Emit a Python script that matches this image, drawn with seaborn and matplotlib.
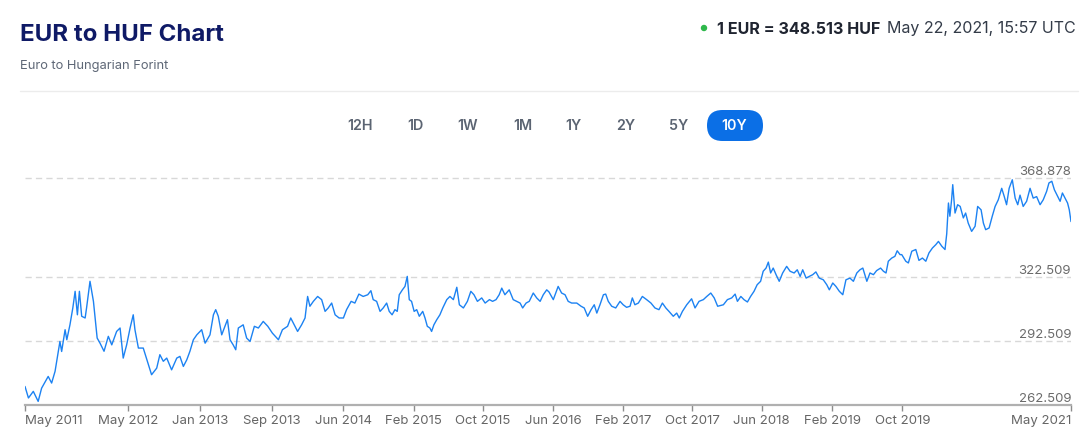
import seaborn as sns
import matplotlib.pyplot as plt
import pandas as pd
from matplotlib.patches import FancyBboxPatch, Circle
from matplotlib.lines import Line2D
from matplotlib.transforms import IdentityTransform

# 資料：EUR/HUF 10 年走勢
start_date = '2011-05-22'
day_offset = [0, 12, 29, 46, 58, 81, 93, 105, 122, 128, 140, 146, 157, 167, 175, 183, 190, 198, 210, 215,
              227, 239, 252, 262, 276, 291, 303, 320, 332, 343, 355, 367, 378, 384, 396, 413, 431, 442, 460, 471,
              483, 495, 512, 530, 541, 553, 565, 576, 588, 600,
              617, 629, 646, 658, 666, 675, 687, 696, 707, 716, 727, 736, 745, 762, 774, 786, 801, 815, 832, 848,
              864, 885, 899, 917, 928, 940, 952, 966, 978, 987, 995, 1007, 1022, 1036, 1048, 1059, 1071, 1083, 1097, 1112,
              1123, 1139, 1152, 1166, 1181, 1197, 1208,
              1216, 1228, 1240, 1251, 1263, 1272, 1282, 1292, 1300, 1307, 1318, 1327, 1335, 1342, 1350, 1359, 1368, 1377, 1389, 1397,
              1405, 1414, 1420, 1428, 1438, 1449, 1459, 1473, 1484, 1496, 1508, 1517, 1531, 1545, 1557, 1568, 1580, 1595, 1607, 1622,
              1633, 1645, 1656, 1665, 1676, 1691, 1705, 1717, 1729, 1738, 1750, 1761, 1775, 1787, 1799, 1810, 1822,
              1830, 1845, 1862, 1874, 1886, 1897, 1909, 1927, 1942, 1953, 1965, 1977, 1988, 1997, 2008, 2020, 2028, 2037, 2049, 2063,
              2078, 2089, 2101, 2113, 2121, 2130, 2142, 2156, 2171, 2186, 2200, 2214, 2226, 2238, 2249, 2264, 2276, 2285, 2296, 2311,
              2328, 2340, 2354, 2369, 2381, 2395, 2407, 2419,
              2439, 2453, 2468, 2480, 2488, 2500, 2511, 2523, 2534, 2546, 2557, 2569, 2578, 2588, 2596, 2604, 2613, 2623, 2634, 2646,
              2660, 2672, 2686, 2697, 2707, 2716, 2728, 2739, 2751, 2762, 2774, 2788, 2800, 2809, 2821, 2832, 2844, 2856, 2867, 2881,
              2893, 2905, 2916, 2926, 2940, 2951, 2963, 2974, 2988, 2998, 3007, 3015, 3027, 3038, 3046, 3056,
              3062, 3076, 3085, 3097, 3111, 3122, 3134, 3146, 3157, 3169, 3181, 3190, 3202, 3213, 3219, 3225, 3230, 3236, 3240, 3248,
              3257, 3266, 3277, 3285, 3294, 3306, 3318, 3327, 3339, 3347, 3355, 3367, 3378, 3388, 3399, 3411, 3420, 3428, 3437, 3448,
              3458, 3467, 3475, 3486, 3498, 3510, 3521, 3533, 3545, 3556, 3568, 3576, 3586, 3595, 3607, 3615, 3623, 3632, 3641, 3647,
              3653]
eur_huf = [271.2, 265.8, 268.9, 264.2, 270.4, 275.9, 272.8, 278.3, 292.3, 287.6, 297.8, 293.1, 300.1, 308.0, 315.8, 304.8, 315.8, 304.1, 303.3, 308.0,
           320.5, 311.1, 293.9, 291.5, 287.7, 294.7, 290.7, 297.0, 298.6, 284.5, 290.7, 298.6, 304.8, 297.8, 289.2, 289.2, 281.4, 276.7, 279.8, 286.1,
           283.0, 284.5, 279.0, 284.5, 285.3, 280.6, 283.7, 287.7, 293.1, 295.4,
           297.8, 291.5, 295.4, 304.8, 307.2, 304.1, 295.4, 298.6, 302.5, 293.1, 290.7, 288.4, 298.6, 300.1, 293.9, 292.3, 299.4, 298.6, 301.7, 299.4,
           296.2, 293.1, 297.8, 299.4, 303.3, 300.1, 297.0, 300.1, 303.3, 313.4, 308.8, 311.1, 313.4, 311.9, 306.4, 308.0, 310.3, 304.8, 303.3, 303.3,
           307.2, 311.1, 310.3, 314.5, 313.4, 314.2, 316.1,
           311.9, 311.1, 306.4, 308.0, 310.3, 306.4, 304.8, 307.2, 306.4, 314.2, 316.5, 318.1, 322.8, 311.9, 311.1, 306.4, 307.2, 304.1, 306.4, 303.3,
           299.4, 298.6, 297.0, 300.1, 302.5, 304.8, 308.0, 311.9, 313.4, 311.9, 317.7, 309.5, 308.0, 311.1, 315.8, 314.2, 311.1, 312.7, 310.3, 311.9,
           311.1, 311.9, 314.2, 317.3, 314.2, 316.5, 311.9, 311.1, 310.3, 308.0, 310.3, 311.1, 315.0, 312.7, 311.1, 314.2, 316.5,
           315.5, 311.9, 318.1, 315.0, 314.2, 311.1, 310.3, 310.3, 308.8, 308.0, 304.1, 307.2, 309.5, 305.6, 309.5, 314.2, 314.5, 311.1, 308.8, 308.0,
           311.1, 309.5, 308.3, 308.8, 312.7, 309.5, 310.3, 313.4, 311.9, 310.3, 308.0, 307.2, 310.3, 308.0, 306.4, 304.1, 305.6, 303.3, 306.4, 309.5,
           312.3, 308.0, 311.1, 311.9, 313.4, 315.0, 312.7, 308.8,
           309.5, 311.9, 312.7, 314.5, 311.1, 313.4, 311.9, 310.8, 313.4, 315.8, 318.9, 320.5, 325.2, 326.7, 329.5, 324.4, 326.7, 323.6, 320.5, 324.4,
           327.5, 325.2, 324.4, 325.9, 322.8, 325.9, 322.0, 322.8, 323.6, 324.9, 322.0, 321.2, 318.9, 316.5, 319.7, 318.1, 315.8, 314.2, 321.2, 322.0,
           320.5, 324.4, 325.9, 326.7, 320.5, 324.4, 323.6, 325.5, 326.7, 325.2, 324.4, 329.9, 331.4, 332.2, 334.8, 333.0,
           333.0, 329.9, 329.1, 334.6, 335.4, 330.3, 331.4, 329.9, 333.8, 336.1, 337.7, 339.2, 336.9, 335.4, 342.8, 357.2, 351.0, 358.7, 365.8, 352.5,
           356.4, 355.6, 350.2, 352.5, 347.8, 343.9, 346.3, 355.6, 354.0, 347.8, 344.7, 345.5, 351.0, 355.6, 358.7, 364.1, 360.2, 356.4, 364.1, 368.1,
           359.5, 356.4, 360.9, 355.6, 358.0, 364.1, 359.5, 360.2, 356.4, 358.7, 362.7, 366.6, 367.4, 363.4, 360.2, 358.0, 361.9, 359.5, 357.2, 354.0,
           348.5]

tick_dates = ['2011-05-22', '2012-05-17', '2013-01-23', '2013-09-30', '2014-06-07', '2015-02-07', '2015-10-08',
              '2016-06-09', '2017-02-07', '2017-10-07', '2018-06-07', '2019-02-09', '2019-10-11', '2021-05-22']
y_marks = [262.509, 292.509, 322.509, 368.878]
range_buttons = ['12H', '1D', '1W', '1M', '1Y', '2Y', '5Y', '10Y']
current_rate = 348.513

df = pd.DataFrame({
    'date': pd.Timestamp(start_date) + pd.to_timedelta(day_offset, unit='D'),
    'rate': eur_huf,
})

sns.set_theme(style='white')
plt.rcParams['font.family'] = ['Inter', 'DejaVu Sans']

W, H = 1088, 434
fig = plt.figure(figsize=(W / 100, H / 100), dpi=100)

# 主圖
ax = fig.add_axes([25 / W, 29 / H, 1046 / W, 231 / H])
for v in y_marks[1:]:
    ax.axhline(v, color='#d8d8d8', lw=1, ls=(0, (4.5, 3)), zorder=0)
sns.lineplot(data=df, x='date', y='rate', color='#1c82f2', lw=1.0, ax=ax)
ax.set_xlim(df['date'].iloc[0], df['date'].iloc[-1])
ax.set_ylim(262.509, 370.8)

for v in y_marks:
    ax.text(1.0, v, f'{v:.3f}', transform=ax.get_yaxis_transform(), ha='right', va='bottom',
            fontsize=9.5, color='#6b6b6b')

ticks = pd.to_datetime(tick_dates)
ax.set_xticks(ticks)
ax.set_xticklabels([d.strftime('%b %Y') for d in ticks])
labels = ax.get_xticklabels()
labels[0].set_ha('left')
labels[-1].set_ha('right')
ax.tick_params(axis='x', bottom=True, length=4, width=1, color='#8c8c8c', pad=3,
               labelsize=9.5, labelcolor='#666666')
ax.set_yticks([])
ax.set_xlabel('')
ax.set_ylabel('')
for s in ['left', 'right', 'top']:
    ax.spines[s].set_visible(False)
ax.spines['bottom'].set_color('#b0b0b0')
ax.spines['bottom'].set_linewidth(1.6)

# 標題
fig.text(20 / W, 1 - 41 / H, 'EUR to HUF Chart', fontsize=17.3, fontweight='bold',
         color='#0f1a66', va='baseline')
fig.text(20 / W, 1 - 69 / H, 'Euro to Hungarian Forint', fontsize=9.3, color='#5f6877', va='baseline')

fig.text(1076 / W, 1 - 33.5 / H, 'May 22, 2021, 15:57 UTC', fontsize=11.5, color='#333b48',
         ha='right', va='baseline')
fig.text(880 / W, 1 - 33.5 / H, f'1 EUR = {current_rate} HUF', fontsize=11.6, fontweight='bold',
         color='#1f2430', ha='right', va='baseline')
fig.add_artist(Circle((704, H - 28), 2.5, transform=IdentityTransform(), color='#2eb84b'))

fig.add_artist(Line2D([20 / W, 1078 / W], [1 - 91 / H, 1 - 91 / H], color='#ececec', lw=1))

# 區間按鈕
btn_x = [360, 416, 468, 522.7, 573.3, 626, 678.3, 734.5]
fig.add_artist(FancyBboxPatch((707, H - 141), 56, 31, boxstyle='round,pad=0,rounding_size=15.5',
                              transform=IdentityTransform(), fc='#0b6fe6', ec='none'))
for name, bx in zip(range_buttons, btn_x):
    fig.text(bx / W, 1 - 125.7 / H, name, fontsize=10.3, fontweight='semibold',
             color='white' if name == '10Y' else '#5b6472', ha='center', va='center')

fig.savefig('out.png', dpi=100)
